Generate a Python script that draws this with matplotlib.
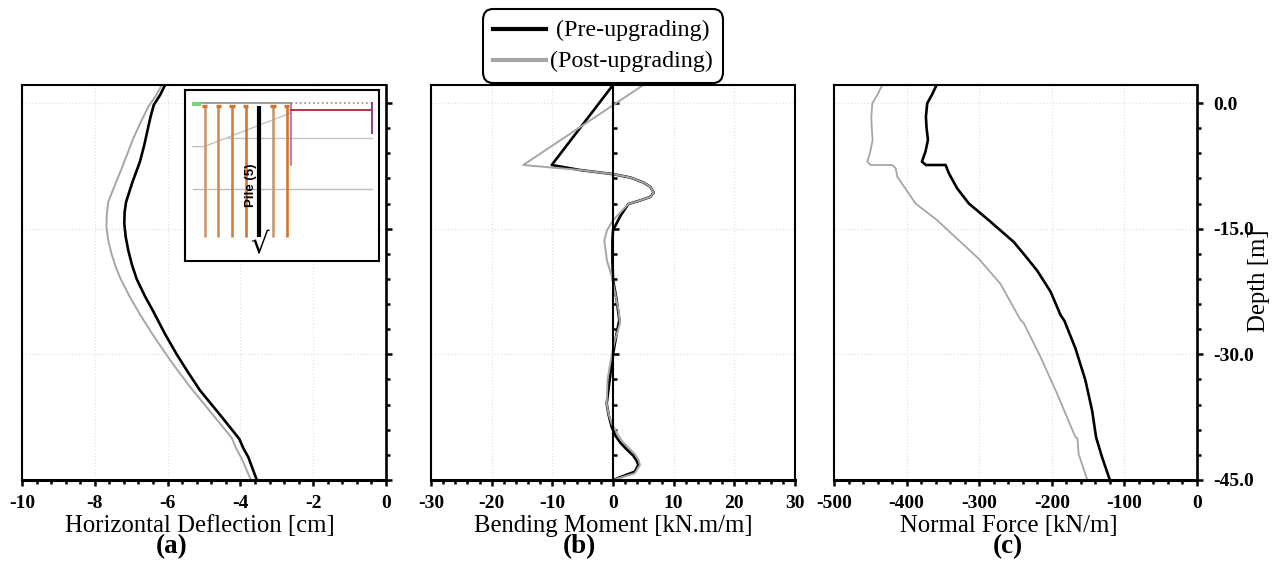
import matplotlib
matplotlib.use('Agg')
import matplotlib.pyplot as plt
from matplotlib.ticker import MultipleLocator

plt.rcParams['font.family'] = ['Liberation Serif', 'DejaVu Sans']
plt.rcParams['axes.unicode_minus'] = False

W, H = 1280, 562

# panel (a) horizontal deflection
depth_a_pre = [2.15, 1.0, -0.24, -1.5, -2.83, -5.0, -7.0, -9.5, -11.8, -13.0, -14.4, -16.0, -17.6, -19.3, -21.0, -23.0, -24.9, -27.5, -30.0, -32.2, -34.3, -36.0, -37.7, -40.1, -41.2, -42.3, -45.0]
defl_pre = [-6.07, -6.2, -6.38, -6.46, -6.53, -6.64, -6.76, -6.97, -7.14, -7.18, -7.19, -7.15, -7.08, -6.98, -6.85, -6.63, -6.39, -6.08, -5.75, -5.43, -5.11, -4.79, -4.47, -4.03, -3.92, -3.78, -3.55]
depth_a_post = [2.15, 0.8, -0.44, -2.3, -4.2, -6.0, -7.8, -9.8, -11.8, -13.3, -14.8, -16.4, -18.0, -19.5, -21.0, -23.2, -25.3, -27.7, -30.0, -32.0, -33.9, -35.6, -37.3, -39.95, -41.2, -42.5, -45.0]
defl_post = [-6.16, -6.33, -6.53, -6.74, -6.94, -7.1, -7.26, -7.45, -7.63, -7.67, -7.68, -7.63, -7.54, -7.43, -7.29, -7.03, -6.75, -6.4, -6.04, -5.71, -5.38, -5.06, -4.74, -4.24, -4.12, -3.96, -3.71]

# panel (b) bending moment
depth_b_pre = [2.15, -7.4, -8.0, -8.5, -8.9, -9.5, -10.0, -10.7, -11.2, -11.6, -12.07, -13.5, -15.2, -16.4, -18.8, -21.1, -23.5, -25.9, -27.5, -30.0, -32.2, -34.3, -35.9, -37.3, -38.7, -39.7, -40.5, -41.3, -42.1, -42.7, -43.2, -44.0, -44.5, -45.0]
moment_pre = [0.0, -10.1, -5.4, 0.1, 2.9, 5.05, 6.15, 6.7, 6.15, 4.6, 2.5, 1.2, 0.0, -0.1, -0.1, 0.0, 0.6, 1.04, 0.6, 0.0, -0.4, -0.77, -1.04, -0.7, -0.2, 0.4, 1.15, 2.2, 3.35, 3.9, 4.18, 3.6, 1.8, 0.0]
depth_b_post = [2.15, -7.4, -8.0, -8.5, -8.9, -9.5, -10.0, -10.7, -11.2, -11.6, -12.07, -14.0, -15.2, -16.4, -18.8, -20.7, -24.7, -26.3, -28.3, -30.0, -33.0, -35.9, -37.2, -38.3, -39.3, -40.3, -41.1, -41.9, -42.6, -43.2, -44.2, -44.6, -45.0]
moment_post = [5.0, -14.8, -5.4, 0.1, 2.9, 5.05, 6.15, 6.7, 6.15, 4.6, 2.5, 0.0, -1.0, -1.43, -1.0, -0.2, 0.9, 1.15, 0.33, -0.2, -0.9, -1.04, -0.7, -0.2, 0.6, 1.43, 2.5, 3.6, 4.2, 4.45, 3.6, 1.8, 0.0]

# panel (c) normal force
depth_c_pre = [2.15, 1.0, -0.04, -1.63, -3.0, -4.4, -5.8, -7.0, -7.4, -7.4, -8.4, -10.2, -12.0, -14.0, -16.6, -18.3, -20.0, -22.5, -25.3, -26.0, -29.3, -33.1, -36.7, -39.9, -42.3, -45.0]
force_pre = [-358.7, -365.0, -371.6, -373.4, -372.5, -370.6, -374.0, -378.9, -373.4, -346.3, -341.7, -330.3, -314.2, -286.7, -252.3, -236.0, -220.2, -201.8, -188.0, -182.6, -167.4, -153.7, -144.5, -139.0, -130.7, -120.0]
depth_c_post = [2.15, 1.0, -0.04, -1.63, -3.0, -4.4, -5.8, -7.0, -7.4, -7.4, -7.8, -8.8, -12.0, -14.0, -16.4, -18.6, -21.6, -25.9, -26.3, -30.3, -34.7, -39.9, -40.0, -41.9, -45.0]
force_post = [-433.5, -440.0, -447.2, -448.6, -448.0, -446.8, -450.0, -454.1, -449.5, -419.7, -415.0, -412.8, -387.6, -357.8, -328.0, -300.5, -270.6, -243.1, -238.5, -215.6, -192.7, -167.4, -164.7, -163.0, -151.0]

# inset sketch, in its own arbitrary units
pile_x = [105, 146, 187, 228, 310, 351]
pile_colors = ['#c9986f', '#d28c55', '#d2813f', '#d2762e', '#c9986f', '#d2762e']
pile_top, pile_bottom = 78, 470
pile5_x = 268
slope_x = [70, 103, 360]
slope_y = [200, 200, 100]
layer1_x, layer1_y = [175, 608], 175
layer2_x, layer2_y = [70, 608], 327
wall_x = 363
wall_bottom = 255
anchor_y = 91
anchor_x = [363, 607]
wall2_x = 607
wall2_bottom = 158
surface_y = 68


def px(x, y):
    return x / W, 1 - y / H


def make_axes(left, right, top, bottom):
    ax = fig.add_axes([left / W, 1 - bottom / H, (right - left) / W, (bottom - top) / H])
    ax.set_ylim(-45, 2.15)
    ax.yaxis.set_major_locator(MultipleLocator(15))
    ax.yaxis.set_minor_locator(MultipleLocator(3))
    ax.yaxis.tick_right()
    ax.grid(True, which='major', color='#e2e2e2', ls=':', lw=0.9)
    ax.set_axisbelow(True)
    ax.tick_params(axis='both', which='major', length=4, width=1.8, labelsize=14, pad=7)
    ax.tick_params(axis='both', which='minor', length=3, width=1.8)
    ax.tick_params(axis='y', labelright=False)
    ax.spines['left'].set_linewidth(1.5)
    ax.spines['top'].set_linewidth(1.5)
    ax.spines['right'].set_linewidth(1.9)
    ax.spines['bottom'].set_linewidth(2.2)
    return ax


def bold_ticks(ax):
    for lab in ax.get_xticklabels() + ax.get_yticklabels():
        lab.set_fontweight('bold')


fig = plt.figure(figsize=(12.8, 5.62), dpi=100)

ax1 = make_axes(22, 386, 85, 480)
ax1.set_xlim(-10, 0)
ax1.xaxis.set_major_locator(MultipleLocator(2))
ax1.xaxis.set_minor_locator(MultipleLocator(0.4))
ax1.plot(defl_post, depth_a_post, color='#a6a6a6', lw=1.4)
ax1.plot(defl_pre, depth_a_pre, color='black', lw=1.9)
ax1.set_xlabel('Horizontal Deflection [cm]', fontsize=17.8, labelpad=2, x=0.489)
bold_ticks(ax1)

ax2 = make_axes(431, 795, 85, 480)
ax2.set_xlim(-30, 30)
ax2.xaxis.set_major_locator(MultipleLocator(10))
ax2.xaxis.set_minor_locator(MultipleLocator(2))
ax2.spines['right'].set_position(('data', 0))
ax2.spines['right'].set_linewidth(1.5)
ax2.axvline(30, color='black', lw=1.5, clip_on=False)
ax2.plot(moment_pre, depth_b_pre, color='black', lw=1.9)
ax2.plot(moment_post, depth_b_post, color='#a6a6a6', lw=1.4)
ax2.set_xlabel('Bending Moment [kN.m/m]', fontsize=17.8, labelpad=2)
bold_ticks(ax2)

ax3 = make_axes(834, 1197, 85, 480)
ax3.set_xlim(-500, 0)
ax3.xaxis.set_major_locator(MultipleLocator(100))
ax3.xaxis.set_minor_locator(MultipleLocator(20))
ax3.yaxis.set_major_formatter(lambda v, pos: f'{v:.1f}')
ax3.tick_params(axis='y', labelright=True, pad=8)
ax3.plot(force_post, depth_c_post, color='#a6a6a6', lw=1.3)
ax3.plot(force_pre, depth_c_pre, color='black', lw=1.9)
ax3.set_xlabel('Normal Force [kN/m]', fontsize=17.8, labelpad=2, x=0.481)
bold_ticks(ax3)

x, y = px(1259, 281)
fig.text(x, y, 'Depth [m]', rotation=90, fontsize=17.8, ha='center', va='center')

for label, cx in zip(['(a)', '(b)', '(c)'], [172, 579, 1008]):
    x, y = px(cx, 547)
    fig.text(x, y, label, fontsize=19.5, fontweight='bold', ha='center', va='center')

# inset
ins = fig.add_axes([185 / W, 1 - 261 / H, 194 / W, 171 / H])
ins.set_xlim(46, 628)
ins.set_ylim(543, 30)
ins.set_xticks([])
ins.set_yticks([])
for sp in ins.spines.values():
    sp.set_linewidth(1.5)
ins.plot(slope_x, slope_y, color='#bdbdbd', lw=0.9)
ins.plot(layer1_x, [layer1_y, layer1_y], color='#c4c4c4', lw=1.0)
ins.plot(layer2_x, [layer2_y, layer2_y], color='#bdbdbd', lw=1.0)
for xp, c in zip(pile_x, pile_colors):
    ins.plot([xp, xp], [pile_top, pile_bottom], color=c, lw=1.9, solid_capstyle='butt')
    ins.plot([xp - 8, xp + 8], [pile_top, pile_top], color='#d2762e', lw=2.4, solid_capstyle='butt')
ins.plot([pile5_x, pile5_x], [pile_top, pile_bottom], color='black', lw=3, solid_capstyle='butt')
ins.plot([75, 363], [surface_y, surface_y], color='#8c8c8c', lw=1.2)
ins.plot([363, 607], [surface_y, surface_y], color='#8c8c8c', lw=1.2, ls=':')
ins.plot([72, 88], [71, 71], color='#7fd17f', lw=3)
ins.plot([wall_x, wall_x], [surface_y, wall_bottom], color='#b266b2', lw=1.2)
ins.plot(anchor_x, [anchor_y, anchor_y], color='#b22234', lw=1.3)
ins.plot([wall2_x, wall2_x], [surface_y, wall2_bottom], color='#8e3a8e', lw=1.4)
ins.text(243, 315, 'Pile (5)', rotation=90, fontsize=9.5, fontweight='bold',
         family='Liberation Sans', ha='center', va='center')
ins.text(268, 497, '√', fontsize=21, family='DejaVu Sans', ha='center', va='center')

# legend
h1, = ax2.plot([], [], color='black', lw=3, label=' (Pre-upgrading)')
h2, = ax2.plot([], [], color='#a6a6a6', lw=3, label='(Post-upgrading)')
leg = fig.legend(handles=[h1, h2], loc='center', bbox_to_anchor=px(603, 46), fontsize=17.3,
                 frameon=True, fancybox=True, framealpha=1, edgecolor='black',
                 handlelength=2.2, handleheight=0.35, handletextpad=0.15, labelspacing=0.4,
                 borderpad=0.45, borderaxespad=0)
leg.get_frame().set_linewidth(1.5)
leg.get_frame().set_boxstyle('round', pad=0, rounding_size=0.45)

fig.savefig('out.png', dpi=100)
